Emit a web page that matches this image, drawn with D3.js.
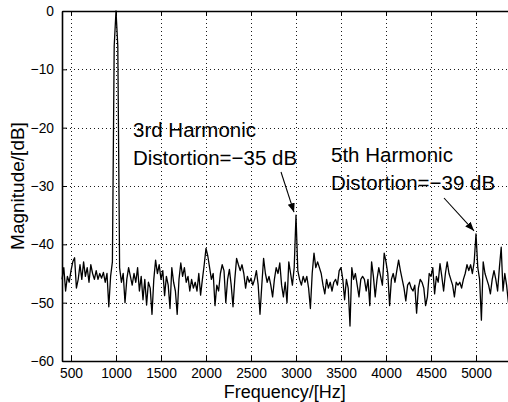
<!DOCTYPE html>
<html>
<head>
<meta charset="utf-8">
<script src="https://cdn.jsdelivr.net/npm/d3@7"></script>
<style>
  html, body { margin: 0; padding: 0; background: #fff; }
  svg { display: block; font-family: "Liberation Sans", Arial, Helvetica, sans-serif; }
</style>
</head>
<body>
<svg id="chart" width="508" height="402"></svg>
<script>
// ---- data ----
const freqStart = 400;   // Hz, first sample
const freqStep = 20;     // Hz between samples
const magnitude = [
  -46, -44, -48, -45.5, -46.5, -44.5, -43, -42.3, -47.5, -46,
  -43.5, -46, -43, -45.5, -44, -46.5, -43.5, -45, -46, -44.5,
  -46, -45, -45.8, -44.8, -46.5, -45, -50.7, -45.5, -43, -6,
  0, -6, -44, -46.5, -45, -50, -46, -44, -45.5, -47,
  -45, -46.5, -44, -48, -45.5, -49.5, -46, -50.4, -46.5, -47.5,
  -52, -46, -42.7, -45, -43.5, -46, -44.5, -48.8, -45.5, -47,
  -51, -44, -46.5, -48, -52, -46, -43.2, -45.5, -44, -46.5,
  -45.5, -48, -46, -47.5, -46.5, -48, -45, -48.7, -46, -43.5,
  -40.7, -42, -44, -46, -45, -50.5, -47, -48, -45, -43.5,
  -44.5, -50, -46, -44.3, -47, -50.7, -46, -42.4, -43.5, -44.5,
  -43.5, -45, -47.5, -45.5, -46.5, -45.8, -47, -46, -44.5, -47,
  -52, -47, -42.4, -45, -46.5, -45.5, -47, -49, -46, -44,
  -45, -43.2, -47, -49, -46.5, -50, -43, -45, -47, -44,
  -35, -44.5, -46, -47, -45.5, -46.5, -45.5, -47.5, -51, -45,
  -41.5, -44, -43, -44, -45, -47, -48.5, -46, -47.5, -46.5,
  -48, -46.5, -46, -47, -44.5, -44, -46, -49.5, -46, -47.5,
  -54, -44, -46, -45, -47, -49, -46, -45.5, -46, -48,
  -46, -50.5, -43, -45.5, -49, -46, -44, -45.5, -47, -41.5,
  -43, -45, -50.5, -46, -45, -46.5, -44.5, -42.7, -44.5, -46,
  -47.5, -49.7, -47, -46.5, -47.5, -48, -47, -51.8, -47.5, -46,
  -46.5, -47.5, -50.5, -49, -45, -45.5, -44, -48.5, -45.5, -46.5,
  -43.3, -45.5, -48, -45, -43, -45, -46, -47, -49, -46.5,
  -47, -46.5, -47.5, -46, -45, -43.5, -44.5, -43.5, -45, -43,
  -38.2, -44, -46, -53, -43, -45, -46, -47, -48.5, -46,
  -44.5, -46, -48, -44, -40.5, -48, -45, -47, -50
];
const xTicks = [500, 1000, 1500, 2000, 2500, 3000, 3500, 4000, 4500, 5000];
const yTicks = [0, -10, -20, -30, -40, -50, -60];
const xDomain = [400, 5360];
const yDomain = [-60, 0];
const annotations = [
  { lines: ["3rd Harmonic", "Distortion=\u221235 dB"], freq: 3000, db: -35 },
  { lines: ["5th Harmonic", "Distortion=\u221239 dB"], freq: 5000, db: -38.2 }
];
const xLabel = "Frequency/[Hz]";
const yLabel = "Magnitude/[dB]";

// ---- layout ----
const L = 62, T = 11, R = 508.4, B = 361;
const svg = d3.select("#chart");
const x = d3.scaleLinear().domain(xDomain).range([L, R]);
const y = d3.scaleLinear().domain(yDomain).range([B, T]);

const data = magnitude.map((v, i) => ({ f: freqStart + i * freqStep, v }));

// grid
const grid = svg.append("g").attr("stroke", "#000").attr("stroke-width", 0.9)
  .attr("stroke-dasharray", "1,3");
grid.selectAll(".gx").data(xTicks).join("line")
  .attr("x1", d => Math.round(x(d)) + 0.5).attr("x2", d => Math.round(x(d)) + 0.5)
  .attr("y1", T).attr("y2", B);
grid.selectAll(".gy").data(yTicks.filter(d => d !== 0 && d !== -60)).join("line")
  .attr("x1", L).attr("x2", R)
  .attr("y1", d => Math.round(y(d)) + 0.5).attr("y2", d => Math.round(y(d)) + 0.5);

// axes (MATLAB style, inward ticks)
const xAxisB = d3.axisBottom(x).tickValues(xTicks).tickSizeInner(-5).tickSizeOuter(0).tickPadding(7)
  .tickFormat(d3.format("d"));
const gxb = svg.append("g").attr("transform", `translate(0,${B})`).call(xAxisB);
const xAxisT = d3.axisTop(x).tickValues(xTicks).tickSizeInner(-5).tickSizeOuter(0).tickFormat("");
const gxt = svg.append("g").attr("transform", `translate(0,${T})`).call(xAxisT);
const yAxisL = d3.axisLeft(y).tickValues(yTicks).tickSizeInner(-5).tickSizeOuter(0).tickPadding(8);
const gyl = svg.append("g").attr("transform", `translate(${L},0)`).call(yAxisL);

[gxb, gxt, gyl].forEach(g => {
  g.select(".domain").attr("stroke", "#000").attr("stroke-width", 1.6);
  g.selectAll(".tick line").attr("stroke", "#000").attr("stroke-width", 1);
  g.selectAll("text").attr("fill", "#000").attr("font-size", 13.8)
    .attr("font-family", "'Liberation Sans', Arial, sans-serif");
});

// trace
const line = d3.line().x(d => x(d.f)).y(d => y(d.v));
svg.append("path").datum(data)
  .attr("fill", "none").attr("stroke", "#000").attr("stroke-width", 1.3)
  .attr("stroke-linejoin", "round").attr("d", line);

// axis titles
svg.append("text").attr("x", (L + R) / 2 - 0.5).attr("y", 398)
  .attr("text-anchor", "middle").attr("font-size", 18).text(xLabel);
svg.append("text").attr("transform", `translate(24,${(T + B) / 2}) rotate(-90)`)
  .attr("text-anchor", "middle").attr("font-size", 19).text(yLabel);

// annotations
const defs = svg.append("defs");
defs.append("marker").attr("id", "arrow").attr("viewBox", "0 0 10 10")
  .attr("refX", 10).attr("refY", 5).attr("markerWidth", 9).attr("markerHeight", 9)
  .attr("markerUnits", "userSpaceOnUse").attr("orient", "auto")
  .append("path").attr("d", "M0,1 L10,5 L0,9 z").attr("fill", "#000");

const annPos = [
  { tx: 133, ty: 137, ax1: 281, ay1: 172, dx: -2, dy: -3 },
  { tx: 331, ty: 162, ax1: 444, ay1: 198, dx: -2, dy: -3 }
];
annotations.forEach((a, i) => {
  const p = annPos[i];
  const t = svg.append("text").attr("x", p.tx).attr("y", p.ty).attr("font-size", 20.5);
  a.lines.forEach((s, j) => t.append("tspan").attr("x", p.tx).attr("dy", j === 0 ? 0 : 28).text(s));
  svg.append("line").attr("x1", p.ax1).attr("y1", p.ay1)
    .attr("x2", x(a.freq) + p.dx).attr("y2", y(a.db) + p.dy)
    .attr("stroke", "#000").attr("stroke-width", 1.1).attr("marker-end", "url(#arrow)");
});
</script>
</body>
</html>
